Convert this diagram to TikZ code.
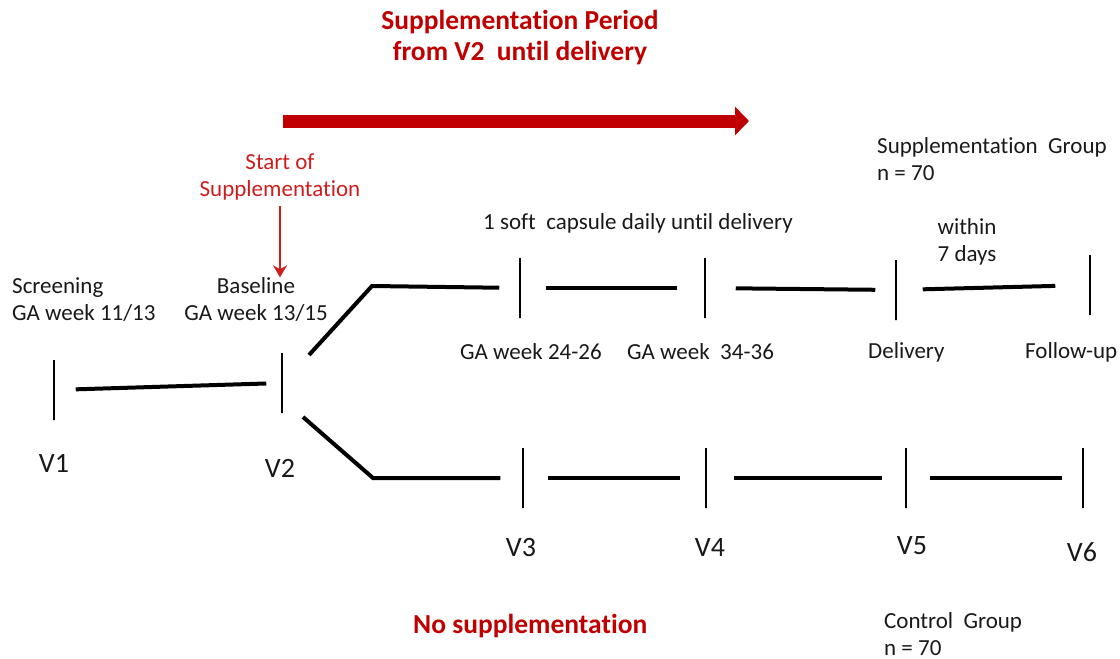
\documentclass[tikz,border=0pt]{standalone}
\usepackage{fontspec}
\setmainfont{Carlito}[Ligatures=NoCommon]
\usetikzlibrary{arrows.meta}
\definecolor{periodred}{RGB}{192,0,0}
\definecolor{startred}{RGB}{204,30,30}

\begin{document}
\begin{tikzpicture}
[x=1pt, y=-1pt,
every node/.style = {inner sep=0pt, font=\fontsize{23}{27}\selectfont},
heading/.style    = {text=periodred, font=\bfseries\fontsize{27.5}{31}\selectfont, align=center},
txt/.style        = {text=black!90},
visit_txt/.style  = {text=black!90, font=\fontsize{28}{32}\selectfont},
start_txt/.style  = {text=startred, align=center},
visit/.style      = {draw, line width=1.5pt, minimum width=0pt, minimum height=60pt},
segment/.style    = {draw, line width=4pt},
period/.style     = {draw=periodred, line width=13pt, -{Triangle[length=14pt,width=28pt]}},
start_arrow/.style= {draw=startred, line width=2.5pt, -{Stealth[length=12pt,width=14pt]}}
]
\useasboundingbox (0,0) rectangle (1120,659);

% headings
\node [heading] (period_lbl) at (520,38) {Supplementation Period\\from V2~ until delivery};
\node [heading, anchor=west] (nosup_lbl) at (413,626) {No supplementation};
\node [start_txt] (start_lbl) at (280,177) {Start of\\Supplementation};

% visits
\node [visit] (v1) at (54,390) {};
\node [visit] (v2) at (282,383) {};
\node [visit] (s3) at (520,288) {};
\node [visit] (s4) at (705,288) {};
\node [visit] (s5) at (896,290) {};
\node [visit] (s6) at (1090,285) {};
\node [visit] (c3) at (523,478) {};
\node [visit] (c4) at (706,478) {};
\node [visit] (c5) at (906,478) {};
\node [visit] (c6) at (1083,478) {};

% texts
\node [txt, align=left, anchor=west] (screening_lbl) at (12,299.5) {Screening\\GA week 11/13};
\node [txt, align=center] (baseline_lbl) at (256,299.5) {Baseline\\GA week 13/15};
\node [visit_txt] (v1_lbl) at (54,463) {V1};
\node [visit_txt] (v2_lbl) at (280,468) {V2};
\node [txt] (capsule_lbl) at (638,223) {1 soft~ capsule daily until delivery};
\node [txt, align=center] (within_lbl) at (967,242) {within\\7 days};
\node [txt, align=left, anchor=west] (supgroup_lbl) at (877,159.5) {Supplementation~ Group\\n = 70};
\node [txt, anchor=west] (ga24_lbl) at (460,352) {GA week 24-26};
\node [txt, anchor=west] (ga34_lbl) at (627,352) {GA week~ 34-36};
\node [txt, anchor=west] (delivery_lbl) at (868,352) {Delivery};
\node [txt, anchor=west] (followup_lbl) at (1025,352) {Follow-up};
\node [visit_txt] (v3_lbl) at (521,548) {V3};
\node [visit_txt] (v4_lbl) at (710,548) {V4};
\node [visit_txt] (v5_lbl) at (912,546) {V5};
\node [visit_txt] (v6_lbl) at (1082,552) {V6};
\node [txt, align=left, anchor=west] (control_lbl) at (884,634) {Control~ Group\\n = 70};

% free ends
\coordinate (period_start) at (283,121);
\coordinate (period_end) at (749,121);
\coordinate (up_start) at (309,355);
\coordinate (up_bend) at (372,286);
\coordinate (low_start) at (303,417);
\coordinate (low_bend) at (373,478);

\path [period] (period_start) -- (period_end);
\path [start_arrow, shorten <=6pt] (start_lbl.south) -- (start_lbl.south |- baseline_lbl.north);

\begin{scope}[every path/.style=segment]
\path [shorten <=21pt, shorten >=15pt] (v1) -- (v2);
\path [shorten >=20pt] (up_start) -- (up_bend) -- (s3);
\path [shorten >=22pt] (low_start) -- (low_bend) -- (c3);
% supplementation group
\path [shorten <=25pt, shorten >=27pt] (s3) -- (s4);
\path [shorten <=30pt, shorten >=20pt] (s4) -- (s5);
\path [shorten <=26pt, shorten >=34pt] (s5) -- (s6);
% control group
\path [shorten <=24pt, shorten >=25pt] (c3) -- (c4);
\path [shorten <=27pt, shorten >=23pt] (c4) -- (c5);
\path [shorten <=23pt, shorten >=20pt] (c5) -- (c6);
\end{scope}

\end{tikzpicture}
\end{document}
